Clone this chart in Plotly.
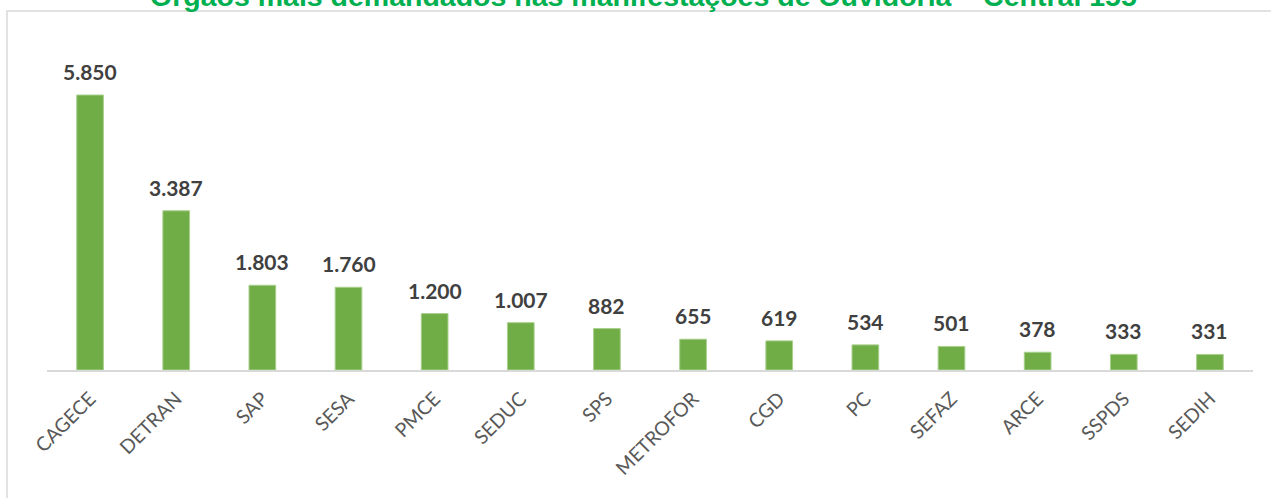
import plotly.graph_objects as go

orgaos = ["CAGECE", "DETRAN", "SAP", "SESA", "PMCE", "SEDUC", "SPS", "METROFOR",
          "CGD", "PC", "SEFAZ", "ARCE", "SSPDS", "SEDIH"]
manifestacoes = [5850, 3387, 1803, 1760, 1200, 1007, 882, 655, 619, 534, 501, 378, 333, 331]

TITULO = "Órgãos mais demandados nas manifestações de Ouvidoria – Central 155"
VERDE = "#70AD47"

fig = go.Figure()
fig.add_trace(go.Bar(
    x=orgaos,
    y=manifestacoes,
    marker=dict(color=VERDE, line=dict(color="#A9D08E", width=1)),
    width=0.31,
    hoverinfo="x+y",
))

# rótulos de valor no padrão brasileiro (ponto como separador de milhar)
for org, v in zip(orgaos, manifestacoes):
    fig.add_annotation(
        x=org, y=v, text=f"<b>{v:,}</b>".replace(",", "."),
        showarrow=False, yanchor="bottom", yshift=9,
        font=dict(family="Lato, Open Sans, sans-serif", size=21, color="#404040"),
    )

# título cortado no topo, como na imagem original
fig.add_annotation(
    x=0.495, y=1.13, xref="paper", yref="paper",
    text=f"<b>{TITULO}</b>", showarrow=False, yanchor="bottom", xanchor="center",
    yshift=-6,
    font=dict(family="Liberation Sans, Arial, sans-serif", size=28.5, color="#00B050"),
)

# moldura da área do gráfico
fig.add_shape(
    type="rect", xref="paper", yref="paper",
    x0=-0.0332, x1=1.1, y0=-0.45, y1=1.1219,
    line=dict(color="#D9D9D9", width=1.5), layer="below",
)

fig.update_layout(
    width=1271, height=498,
    margin=dict(t=50, b=128, l=47, r=18),
    paper_bgcolor="white",
    plot_bgcolor="white",
    showlegend=False,
    xaxis=dict(
        showgrid=False, automargin=False,
        showline=True, linecolor="#D9D9D9", linewidth=1.5,
        ticks="", tickangle=-45, ticklabelstandoff=8,
        tickfont=dict(family="Lato, Open Sans, sans-serif", size=19.5, color="#595959"),
    ),
    yaxis=dict(
        visible=False, range=[0, 6808], fixedrange=True,
    ),
)

# tira a margem padrão do <body> para o gráfico ocupar a janela inteira
fig.write_html(
    "out.html",
    config={"displayModeBar": False},
    post_script="document.body.style.margin='0';",
)
